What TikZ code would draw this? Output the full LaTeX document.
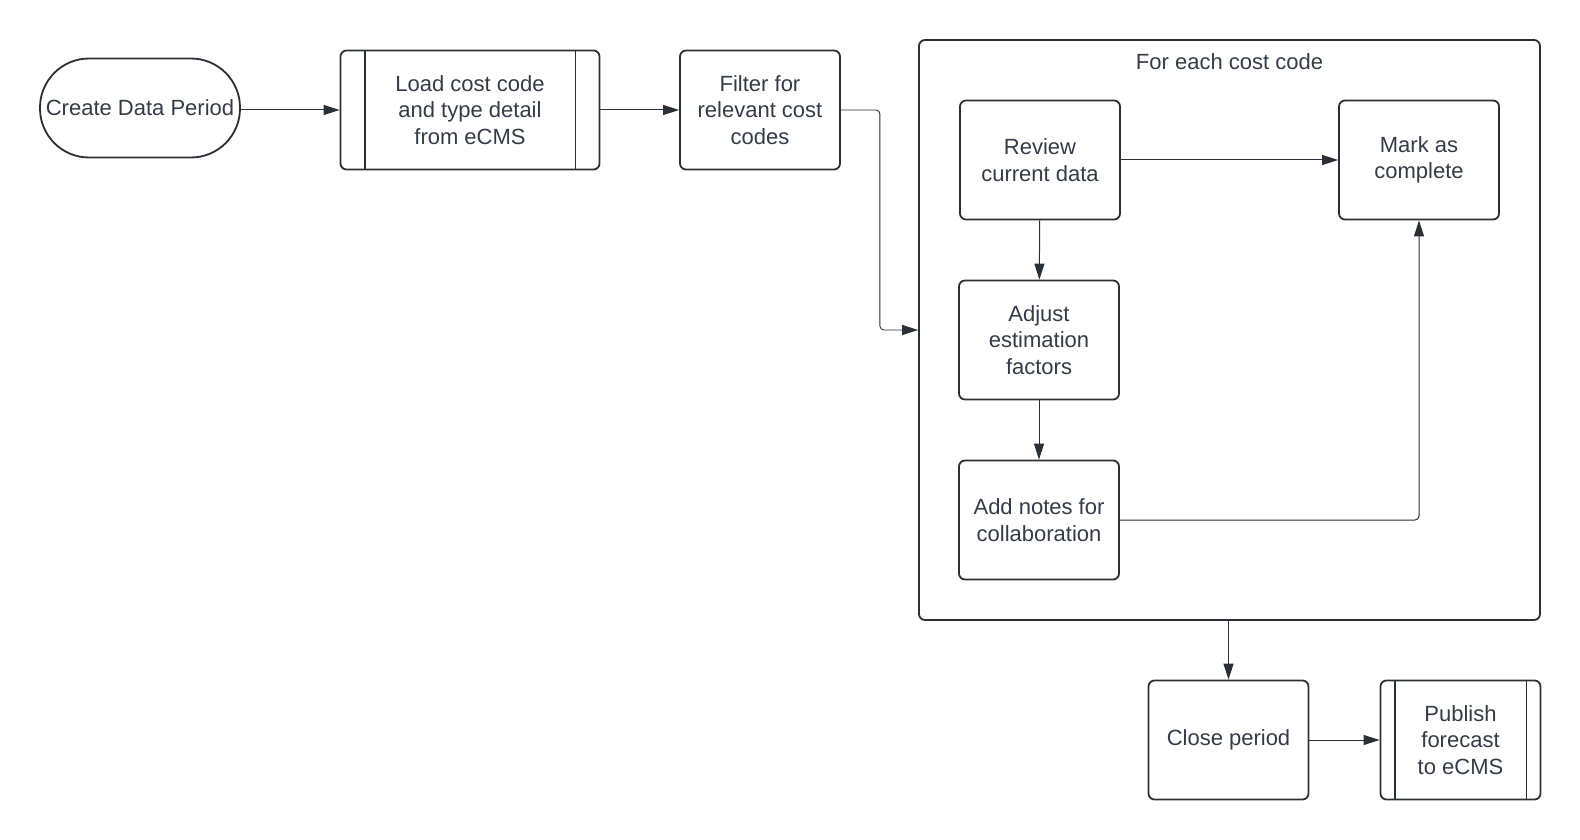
\documentclass[tikz,border=0pt]{standalone}
\usepackage{fontspec}
\setmainfont{Liberation Sans}
\usetikzlibrary{arrows.meta}
\usepackage{xcolor}
\definecolor{LucidLine}{HTML}{2B2F36}
\definecolor{LucidText}{HTML}{353B45}

\begin{document}
\begin{tikzpicture}[x=1pt, y=-1pt,
    font=\fontsize{22}{26.5}\selectfont,
    box/.style={draw=LucidLine, line width=1.8pt, rounded corners=6pt, text=LucidText, align=center, inner sep=0pt},
    proc/.style={box, minimum width=160pt, minimum height=119pt},
    arr/.style={draw=LucidLine, line width=1pt, -{Triangle[length=16pt, width=10pt]}}]
            \useasboundingbox (0,0) rectangle (1580,840);
            % top row
            \node[box, rounded corners=49pt, minimum width=200pt, minimum height=99pt] (create) at (140,108) {Create Data Period};
            \node[box, minimum width=259pt, minimum height=119pt] (load) at (470,110) {Load cost code\\and type detail\\from eCMS};
            \draw[LucidLine, line width=1.8pt] ([xshift=25pt]load.north west) -- ([xshift=25pt]load.south west);
            \draw[LucidLine, line width=1.8pt] ([xshift=-25pt]load.north east) -- ([xshift=-25pt]load.south east);
            \node[proc] (filter) at (760,110) {Filter for\\relevant cost\\codes};

            % loop container
            \node[box, minimum width=621pt, minimum height=580pt] (loop) at (1229.5,330) {};
            \node[text=LucidText] (looptitle) at (1229.5,62) {For each cost code};
            \node[proc] (review) at (1040,160) {Review\\current data};
            \node[proc] (mark) at (1419,160) {Mark as\\complete};
            \node[proc] (adjust) at (1039,340) {Adjust\\estimation\\factors};
            \node[proc] (notes) at (1039,520) {Add notes for\\collaboration};

            % bottom row
            \node[proc] (close) at (1228.5,740) {Close period};
            \node[proc] (publish) at (1460.5,740) {Publish\\forecast\\to eCMS};
            \draw[LucidLine, line width=1.8pt] ([xshift=15pt]publish.north west) -- ([xshift=15pt]publish.south west);
            \draw[LucidLine, line width=1.8pt] ([xshift=-15pt]publish.north east) -- ([xshift=-15pt]publish.south east);

            \draw[arr] (create.east |- load.west) -- (load.west);
            \draw[arr] (load) -- (filter);
            \draw[arr, line width=0.9pt, rounded corners=4pt] (filter.east) -- ++(39,0) |- (loop.west);
            \draw[arr] (review) -- (mark);
            \draw[arr] (review) -- (adjust);
            \draw[arr] (adjust) -- (notes);
            \draw[arr, rounded corners=4pt] (notes.east) -| (mark.south);
            \draw[arr] (loop.south -| close.north) -- (close.north);
            \draw[arr] (close) -- (publish);
        \end{tikzpicture}
\end{document}
